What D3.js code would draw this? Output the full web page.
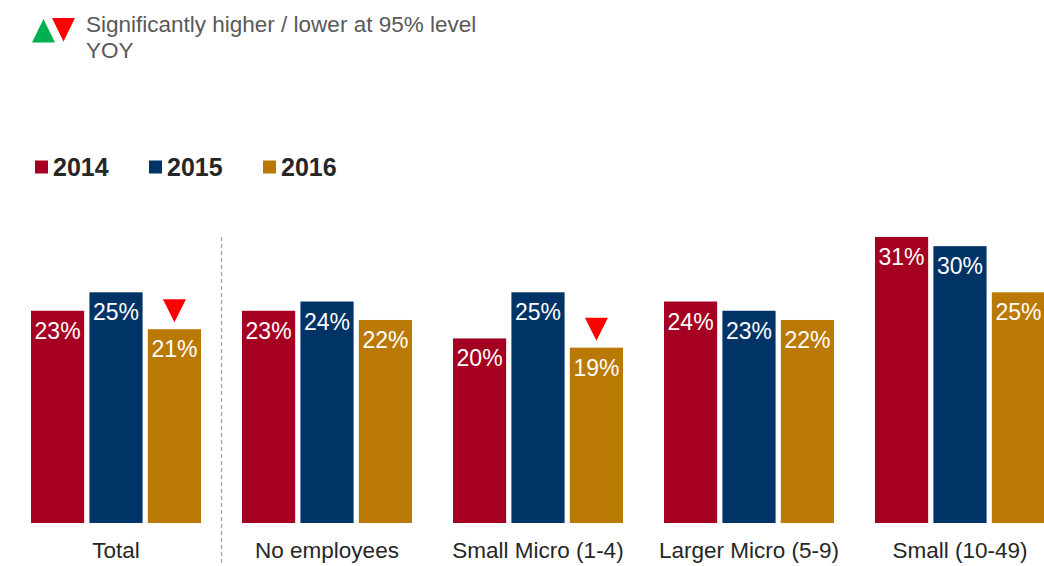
<!DOCTYPE html>
<html>
<head>
<meta charset="utf-8">
<script src="https://cdn.jsdelivr.net/npm/d3@7"></script>
<style>
  html, body { margin: 0; padding: 0; background: #fff; }
  svg { display: block; font-family: "Liberation Sans", Arial, sans-serif; }
</style>
</head>
<body>
<svg id="chart" width="1044" height="566"></svg>
<script>
// Business size groups and yearly shares
const categories = ["Total", "No employees", "Small Micro (1-4)", "Larger Micro (5-9)", "Small (10-49)"];
const years = ["2014", "2015", "2016"];
const values2014 = [23, 23, 20, 24, 31];
const values2015 = [25, 24, 25, 23, 30];
const values2016 = [21, 22, 19, 22, 25];
const yearColors = ["#a50021", "#003366", "#ba7905"];
// Year-on-year significance flags: category, year, direction
const sigCategories = ["Total", "Small Micro (1-4)"];
const sigYears = ["2016", "2016"];
const sigDirections = ["down", "down"];

const series = [values2014, values2015, values2016];
const rows = categories.map((c, i) => ({
  category: c,
  bars: years.map((y, j) => ({ year: y, value: series[j][i], color: yearColors[j] }))
}));

const svg = d3.select("#chart");

const x0 = d3.scaleBand()
  .domain(categories)
  .range([10.5, 1065.5])
  .paddingInner(0.1943)
  .paddingOuter(0.0972);

const x1 = d3.scaleBand()
  .domain(years)
  .range([0, x0.bandwidth()])
  .paddingInner(0.09)
  .paddingOuter(0);

const baseline = 523;
const y = d3.scaleLinear().domain([0, 25]).range([baseline, baseline - 230.7]);

// Significance key at top-left
const key = svg.append("g");
key.append("path")
  .attr("d", "M32,42.5 L43.5,19 L55,42.5 Z")
  .attr("fill", "#00b050");
key.append("path")
  .attr("d", "M52,18 L75,18 L63.5,41.5 Z")
  .attr("fill", "#ff0000");
key.append("text")
  .attr("x", 86).attr("y", 31.5)
  .attr("font-size", 22.5).attr("fill", "#595959")
  .text("Significantly higher / lower at 95% level");
key.append("text")
  .attr("x", 86).attr("y", 58)
  .attr("font-size", 22.5).attr("fill", "#595959")
  .text("YOY");

// Year legend
const legend = svg.append("g");
const legendX = [35, 149, 263];
years.forEach((yr, j) => {
  legend.append("rect")
    .attr("x", legendX[j]).attr("y", 160.5)
    .attr("width", 13).attr("height", 13)
    .attr("fill", yearColors[j]);
  legend.append("text")
    .attr("x", legendX[j] + 18).attr("y", 176)
    .attr("font-size", 25).attr("font-weight", "bold")
    .attr("fill", "#262626")
    .text(yr);
});

// Separator between Total and the size groups
const sepX = (x0("Total") + x0.bandwidth() + x0("No employees")) / 2;
svg.append("line")
  .attr("x1", sepX).attr("x2", sepX)
  .attr("y1", 237).attr("y2", 564)
  .attr("stroke", "#a6a6a6")
  .attr("stroke-width", 1.3)
  .attr("stroke-dasharray", "4,3");

// Bars
const groups = svg.append("g").selectAll("g")
  .data(rows)
  .join("g")
  .attr("transform", d => `translate(${x0(d.category)},0)`);

groups.selectAll("rect")
  .data(d => d.bars)
  .join("rect")
  .attr("x", d => x1(d.year))
  .attr("y", d => y(d.value))
  .attr("width", x1.bandwidth())
  .attr("height", d => baseline - y(d.value))
  .attr("fill", d => d.color);

groups.selectAll("text.val")
  .data(d => d.bars)
  .join("text")
  .attr("class", "val")
  .attr("x", d => x1(d.year) + x1.bandwidth() / 2)
  .attr("y", d => y(d.value) + 28)
  .attr("text-anchor", "middle")
  .attr("font-size", 23)
  .attr("fill", "#ffffff")
  .text(d => d.value + "%");

// Significance markers above flagged bars
sigCategories.forEach((c, i) => {
  const i0 = categories.indexOf(c);
  const j = years.indexOf(sigYears[i]);
  const cx = x0(c) + x1(sigYears[i]) + x1.bandwidth() / 2;
  const top = y(series[j][i0]);
  const b = top - 7, t = b - 23;
  if (sigDirections[i] === "down") {
    svg.append("path")
      .attr("d", `M${cx - 11.5},${t} L${cx + 11.5},${t} L${cx},${b} Z`)
      .attr("fill", "#ff0000");
  } else {
    svg.append("path")
      .attr("d", `M${cx - 11.5},${b} L${cx + 11.5},${b} L${cx},${t} Z`)
      .attr("fill", "#00b050");
  }
});

// Category labels
svg.append("g").selectAll("text")
  .data(categories)
  .join("text")
  .attr("x", d => x0(d) + x0.bandwidth() / 2)
  .attr("y", 558)
  .attr("text-anchor", "middle")
  .attr("font-size", 22.5)
  .attr("fill", "#262626")
  .text(d => d);
</script>
</body>
</html>
